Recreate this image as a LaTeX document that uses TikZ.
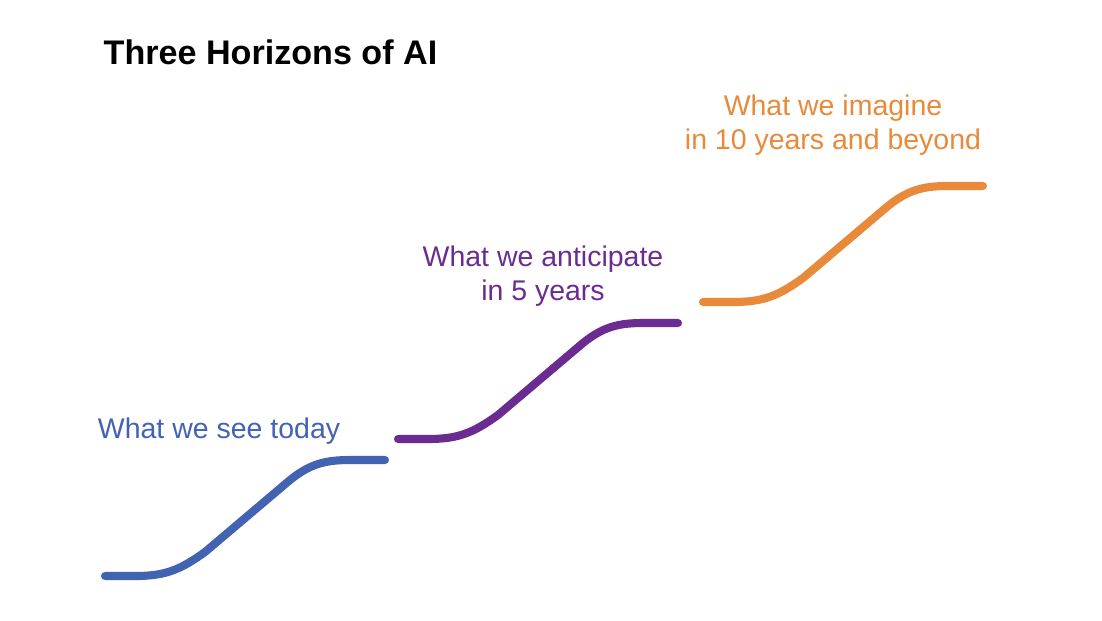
\documentclass[tikz,border=0pt]{standalone}
\usepackage{fontspec}
\setmainfont{Liberation Sans}
\usetikzlibrary{positioning}
\definecolor{today_blue}{RGB}{66,98,178}
\definecolor{anticipate_purple}{RGB}{106,44,145}
\definecolor{imagine_orange}{RGB}{233,137,58}

\begin{document}
\begin{tikzpicture}[x=0.01cm, y=-0.01cm,
    horizon/.style={line width=2.3pt, line cap=round},
    horizon_text/.style={font=\fontsize{8.1}{9.7}\selectfont, align=center, inner sep=0pt},
    title_text/.style={font=\fontsize{9.7}{11.6}\selectfont\bfseries, inner sep=0pt}]
    \useasboundingbox (0,0) rectangle (1102,620);

    % Title
    \node[title_text, anchor=west] (title) at (103,52) {Three Horizons of AI};

    % Horizon curves
    \foreach \sx/\sy/\col in {105/576/today_blue, 398/439/anticipate_purple, 703/302/imagine_orange}
        \draw[horizon, \col, shift={(\sx,\sy)}] (0,0) -- (30,0)
            .. controls (60,0) and (75,-6) .. (100,-24) -- (185,-96)
            .. controls (205,-112) and (220,-116) .. (245,-116) -- (280,-116);

    % Labels
    \node[horizon_text, today_blue] (see_today) at (219,431) {What we see today};
    \node[horizon_text, anticipate_purple] (anticipate) at (543,276) {What we anticipate\\in 5 years};
    \node[horizon_text, imagine_orange] (imagine) at (833,125) {What we imagine\\in 10 years and beyond};
\end{tikzpicture}
\end{document}
